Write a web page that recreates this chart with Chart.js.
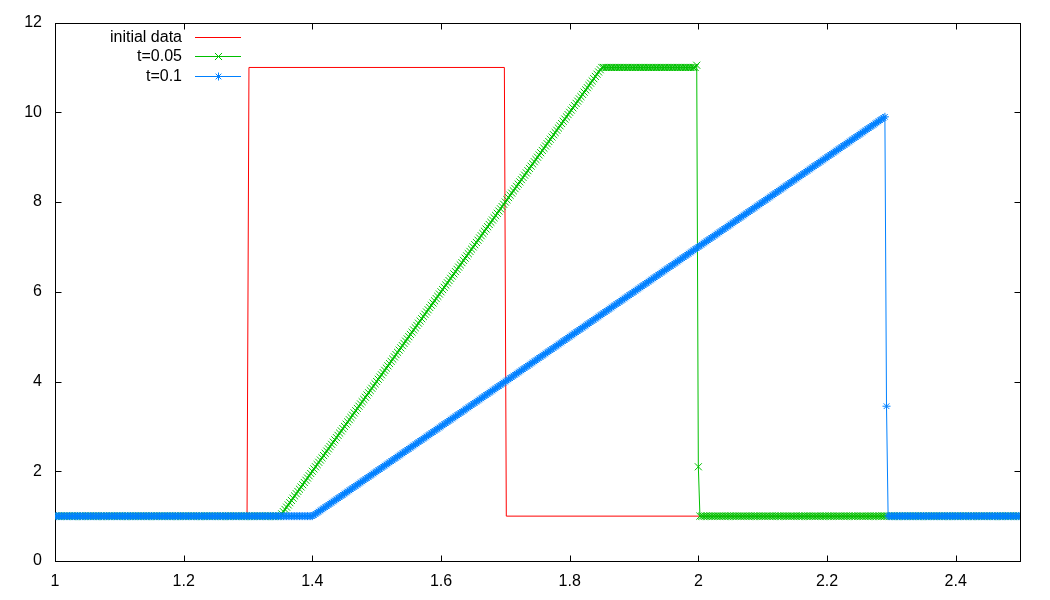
<!DOCTYPE html>
<html>
<head>
<meta charset="utf-8">
<script src="https://cdn.jsdelivr.net/npm/chart.js@4.4.1/dist/chart.umd.min.js"></script>
<style>
    html, body { margin: 0; padding: 0; background: #fff; }
</style>
</head>
<body>
<canvas id="plot" width="1050" height="600"></canvas>
<script>
// grid positions (x), two lines = 0.1
const xGrid = [
    1,1.0025,1.005,1.0075,1.01,1.0125,1.015,1.0175,1.02,1.0225,1.025,1.0275,1.03,1.0325,1.035,1.0375,1.04,1.0425,1.045,1.0475,
    1.05,1.0525,1.055,1.0575,1.06,1.0625,1.065,1.0675,1.07,1.0725,1.075,1.0775,1.08,1.0825,1.085,1.0875,1.09,1.0925,1.095,1.0975,
    1.1,1.1025,1.105,1.1075,1.11,1.1125,1.115,1.1175,1.12,1.1225,1.125,1.1275,1.13,1.1325,1.135,1.1375,1.14,1.1425,1.145,1.1475,
    1.15,1.1525,1.155,1.1575,1.16,1.1625,1.165,1.1675,1.17,1.1725,1.175,1.1775,1.18,1.1825,1.185,1.1875,1.19,1.1925,1.195,1.1975,
    1.2,1.2025,1.205,1.2075,1.21,1.2125,1.215,1.2175,1.22,1.2225,1.225,1.2275,1.23,1.2325,1.235,1.2375,1.24,1.2425,1.245,1.2475,
    1.25,1.2525,1.255,1.2575,1.26,1.2625,1.265,1.2675,1.27,1.2725,1.275,1.2775,1.28,1.2825,1.285,1.2875,1.29,1.2925,1.295,1.2975,
    1.3,1.3025,1.305,1.3075,1.31,1.3125,1.315,1.3175,1.32,1.3225,1.325,1.3275,1.33,1.3325,1.335,1.3375,1.34,1.3425,1.345,1.3475,
    1.35,1.3525,1.355,1.3575,1.36,1.3625,1.365,1.3675,1.37,1.3725,1.375,1.3775,1.38,1.3825,1.385,1.3875,1.39,1.3925,1.395,1.3975,
    1.4,1.4025,1.405,1.4075,1.41,1.4125,1.415,1.4175,1.42,1.4225,1.425,1.4275,1.43,1.4325,1.435,1.4375,1.44,1.4425,1.445,1.4475,
    1.45,1.4525,1.455,1.4575,1.46,1.4625,1.465,1.4675,1.47,1.4725,1.475,1.4775,1.48,1.4825,1.485,1.4875,1.49,1.4925,1.495,1.4975,
    1.5,1.5025,1.505,1.5075,1.51,1.5125,1.515,1.5175,1.52,1.5225,1.525,1.5275,1.53,1.5325,1.535,1.5375,1.54,1.5425,1.545,1.5475,
    1.55,1.5525,1.555,1.5575,1.56,1.5625,1.565,1.5675,1.57,1.5725,1.575,1.5775,1.58,1.5825,1.585,1.5875,1.59,1.5925,1.595,1.5975,
    1.6,1.6025,1.605,1.6075,1.61,1.6125,1.615,1.6175,1.62,1.6225,1.625,1.6275,1.63,1.6325,1.635,1.6375,1.64,1.6425,1.645,1.6475,
    1.65,1.6525,1.655,1.6575,1.66,1.6625,1.665,1.6675,1.67,1.6725,1.675,1.6775,1.68,1.6825,1.685,1.6875,1.69,1.6925,1.695,1.6975,
    1.7,1.7025,1.705,1.7075,1.71,1.7125,1.715,1.7175,1.72,1.7225,1.725,1.7275,1.73,1.7325,1.735,1.7375,1.74,1.7425,1.745,1.7475,
    1.75,1.7525,1.755,1.7575,1.76,1.7625,1.765,1.7675,1.77,1.7725,1.775,1.7775,1.78,1.7825,1.785,1.7875,1.79,1.7925,1.795,1.7975,
    1.8,1.8025,1.805,1.8075,1.81,1.8125,1.815,1.8175,1.82,1.8225,1.825,1.8275,1.83,1.8325,1.835,1.8375,1.84,1.8425,1.845,1.8475,
    1.85,1.8525,1.855,1.8575,1.86,1.8625,1.865,1.8675,1.87,1.8725,1.875,1.8775,1.88,1.8825,1.885,1.8875,1.89,1.8925,1.895,1.8975,
    1.9,1.9025,1.905,1.9075,1.91,1.9125,1.915,1.9175,1.92,1.9225,1.925,1.9275,1.93,1.9325,1.935,1.9375,1.94,1.9425,1.945,1.9475,
    1.95,1.9525,1.955,1.9575,1.96,1.9625,1.965,1.9675,1.97,1.9725,1.975,1.9775,1.98,1.9825,1.985,1.9875,1.99,1.9925,1.995,1.9975,
    2,2.0025,2.005,2.0075,2.01,2.0125,2.015,2.0175,2.02,2.0225,2.025,2.0275,2.03,2.0325,2.035,2.0375,2.04,2.0425,2.045,2.0475,
    2.05,2.0525,2.055,2.0575,2.06,2.0625,2.065,2.0675,2.07,2.0725,2.075,2.0775,2.08,2.0825,2.085,2.0875,2.09,2.0925,2.095,2.0975,
    2.1,2.1025,2.105,2.1075,2.11,2.1125,2.115,2.1175,2.12,2.1225,2.125,2.1275,2.13,2.1325,2.135,2.1375,2.14,2.1425,2.145,2.1475,
    2.15,2.1525,2.155,2.1575,2.16,2.1625,2.165,2.1675,2.17,2.1725,2.175,2.1775,2.18,2.1825,2.185,2.1875,2.19,2.1925,2.195,2.1975,
    2.2,2.2025,2.205,2.2075,2.21,2.2125,2.215,2.2175,2.22,2.2225,2.225,2.2275,2.23,2.2325,2.235,2.2375,2.24,2.2425,2.245,2.2475,
    2.25,2.2525,2.255,2.2575,2.26,2.2625,2.265,2.2675,2.27,2.2725,2.275,2.2775,2.28,2.2825,2.285,2.2875,2.29,2.2925,2.295,2.2975,
    2.3,2.3025,2.305,2.3075,2.31,2.3125,2.315,2.3175,2.32,2.3225,2.325,2.3275,2.33,2.3325,2.335,2.3375,2.34,2.3425,2.345,2.3475,
    2.35,2.3525,2.355,2.3575,2.36,2.3625,2.365,2.3675,2.37,2.3725,2.375,2.3775,2.38,2.3825,2.385,2.3875,2.39,2.3925,2.395,2.3975,
    2.4,2.4025,2.405,2.4075,2.41,2.4125,2.415,2.4175,2.42,2.4225,2.425,2.4275,2.43,2.4325,2.435,2.4375,2.44,2.4425,2.445,2.4475,
    2.45,2.4525,2.455,2.4575,2.46,2.4625,2.465,2.4675,2.47,2.4725,2.475,2.4775,2.48,2.4825,2.485,2.4875,2.49,2.4925,2.495,2.4975,
    2.5
];

// t=0.05
const t005 = [
    1,1,1,1,1,1,1,1,1,1, 1,1,1,1,1,1,1,1,1,1,
    1,1,1,1,1,1,1,1,1,1, 1,1,1,1,1,1,1,1,1,1,
    1,1,1,1,1,1,1,1,1,1, 1,1,1,1,1,1,1,1,1,1,
    1,1,1,1,1,1,1,1,1,1, 1,1,1,1,1,1,1,1,1,1,
    1,1,1,1,1,1,1,1,1,1, 1,1,1,1,1,1,1,1,1,1,
    1,1,1,1,1,1,1,1,1,1, 1,1,1,1,1,1,1,1,1,1,
    1,1,1,1,1,1,1,1,1,1, 1,1,1,1,1,1,1,1,1,1,
    1,1.05,1.1,1.15,1.2,1.25,1.3,1.35,1.4,1.45, 1.5,1.55,1.6,1.65,1.7,1.75,1.8,1.85,1.9,1.95,
    2,2.05,2.1,2.15,2.2,2.25,2.3,2.35,2.4,2.45, 2.5,2.55,2.6,2.65,2.7,2.75,2.8,2.85,2.9,2.95,
    3,3.05,3.1,3.15,3.2,3.25,3.3,3.35,3.4,3.45, 3.5,3.55,3.6,3.65,3.7,3.75,3.8,3.85,3.9,3.95,
    4,4.05,4.1,4.15,4.2,4.25,4.3,4.35,4.4,4.45, 4.5,4.55,4.6,4.65,4.7,4.75,4.8,4.85,4.9,4.95,
    5,5.05,5.1,5.15,5.2,5.25,5.3,5.35,5.4,5.45, 5.5,5.55,5.6,5.65,5.7,5.75,5.8,5.85,5.9,5.95,
    6,6.05,6.1,6.15,6.2,6.25,6.3,6.35,6.4,6.45, 6.5,6.55,6.6,6.65,6.7,6.75,6.8,6.85,6.9,6.95,
    7,7.05,7.1,7.15,7.2,7.25,7.3,7.35,7.4,7.45, 7.5,7.55,7.6,7.65,7.7,7.75,7.8,7.85,7.9,7.95,
    8,8.05,8.1,8.15,8.2,8.25,8.3,8.35,8.4,8.45, 8.5,8.55,8.6,8.65,8.7,8.75,8.8,8.85,8.9,8.95,
    9,9.05,9.1,9.15,9.2,9.25,9.3,9.35,9.4,9.45, 9.5,9.55,9.6,9.65,9.7,9.75,9.8,9.85,9.9,9.95,
    10,10.05,10.1,10.15,10.2,10.25,10.3,10.35,10.4,10.45, 10.5,10.55,10.6,10.65,10.7,10.75,10.8,10.85,10.9,10.95,
    11,11,11,11,11,11,11,11,11,11, 11,11,11,11,11,11,11,11,11,11,
    11,11,11,11,11,11,11,11,11,11, 11,11,11,11,11,11,11,11,11,11,
    11,11,11,11,11,11,11,11,11,11, 11,11,11,11,11,11,11,11,11,11.05,
    2.1,1,1,1,1,1,1,1,1,1, 1,1,1,1,1,1,1,1,1,1,
    1,1,1,1,1,1,1,1,1,1, 1,1,1,1,1,1,1,1,1,1,
    1,1,1,1,1,1,1,1,1,1, 1,1,1,1,1,1,1,1,1,1,
    1,1,1,1,1,1,1,1,1,1, 1,1,1,1,1,1,1,1,1,1,
    1,1,1,1,1,1,1,1,1,1, 1,1,1,1,1,1,1,1,1,1,
    1,1,1,1,1,1,1,1,1,1, 1,1,1,1,1,1,1,1,1,1,
    1,1,1,1,1,1,1,1,1,1, 1,1,1,1,1,1,1,1,1,1,
    1,1,1,1,1,1,1,1,1,1, 1,1,1,1,1,1,1,1,1,1,
    1,1,1,1,1,1,1,1,1,1, 1,1,1,1,1,1,1,1,1,1,
    1,1,1,1,1,1,1,1,1,1, 1,1,1,1,1,1,1,1,1,1,
    1
];

// t=0.1
const t01 = [
    1,1,1,1,1,1,1,1,1,1, 1,1,1,1,1,1,1,1,1,1,
    1,1,1,1,1,1,1,1,1,1, 1,1,1,1,1,1,1,1,1,1,
    1,1,1,1,1,1,1,1,1,1, 1,1,1,1,1,1,1,1,1,1,
    1,1,1,1,1,1,1,1,1,1, 1,1,1,1,1,1,1,1,1,1,
    1,1,1,1,1,1,1,1,1,1, 1,1,1,1,1,1,1,1,1,1,
    1,1,1,1,1,1,1,1,1,1, 1,1,1,1,1,1,1,1,1,1,
    1,1,1,1,1,1,1,1,1,1, 1,1,1,1,1,1,1,1,1,1,
    1,1,1,1,1,1,1,1,1,1, 1,1,1,1,1,1,1,1,1,1,
    1,1.025,1.05,1.075,1.1,1.125,1.15,1.175,1.2,1.225,1.25,1.275,1.3,1.325,1.35,1.375,1.4,1.425,1.45,1.475,
    1.5,1.525,1.55,1.575,1.6,1.625,1.65,1.675,1.7,1.725,1.75,1.775,1.8,1.825,1.85,1.875,1.9,1.925,1.95,1.975,
    2,2.025,2.05,2.075,2.1,2.125,2.15,2.175,2.2,2.225,2.25,2.275,2.3,2.325,2.35,2.375,2.4,2.425,2.45,2.475,
    2.5,2.525,2.55,2.575,2.6,2.625,2.65,2.675,2.7,2.725,2.75,2.775,2.8,2.825,2.85,2.875,2.9,2.925,2.95,2.975,
    3,3.025,3.05,3.075,3.1,3.125,3.15,3.175,3.2,3.225,3.25,3.275,3.3,3.325,3.35,3.375,3.4,3.425,3.45,3.475,
    3.5,3.525,3.55,3.575,3.6,3.625,3.65,3.675,3.7,3.725,3.75,3.775,3.8,3.825,3.85,3.875,3.9,3.925,3.95,3.975,
    4,4.025,4.05,4.075,4.1,4.125,4.15,4.175,4.2,4.225,4.25,4.275,4.3,4.325,4.35,4.375,4.4,4.425,4.45,4.475,
    4.5,4.525,4.55,4.575,4.6,4.625,4.65,4.675,4.7,4.725,4.75,4.775,4.8,4.825,4.85,4.875,4.9,4.925,4.95,4.975,
    5,5.025,5.05,5.075,5.1,5.125,5.15,5.175,5.2,5.225,5.25,5.275,5.3,5.325,5.35,5.375,5.4,5.425,5.45,5.475,
    5.5,5.525,5.55,5.575,5.6,5.625,5.65,5.675,5.7,5.725,5.75,5.775,5.8,5.825,5.85,5.875,5.9,5.925,5.95,5.975,
    6,6.025,6.05,6.075,6.1,6.125,6.15,6.175,6.2,6.225,6.25,6.275,6.3,6.325,6.35,6.375,6.4,6.425,6.45,6.475,
    6.5,6.525,6.55,6.575,6.6,6.625,6.65,6.675,6.7,6.725,6.75,6.775,6.8,6.825,6.85,6.875,6.9,6.925,6.95,6.975,
    7,7.025,7.05,7.075,7.1,7.125,7.15,7.175,7.2,7.225,7.25,7.275,7.3,7.325,7.35,7.375,7.4,7.425,7.45,7.475,
    7.5,7.525,7.55,7.575,7.6,7.625,7.65,7.675,7.7,7.725,7.75,7.775,7.8,7.825,7.85,7.875,7.9,7.925,7.95,7.975,
    8,8.025,8.05,8.075,8.1,8.125,8.15,8.175,8.2,8.225,8.25,8.275,8.3,8.325,8.35,8.375,8.4,8.425,8.45,8.475,
    8.5,8.525,8.55,8.575,8.6,8.625,8.65,8.675,8.7,8.725,8.75,8.775,8.8,8.825,8.85,8.875,8.9,8.925,8.95,8.975,
    9,9.025,9.05,9.075,9.1,9.125,9.15,9.175,9.2,9.225,9.25,9.275,9.3,9.325,9.35,9.375,9.4,9.425,9.45,9.475,
    9.5,9.525,9.55,9.575,9.6,9.625,9.65,9.675,9.7,9.725,9.75,9.775,9.8,9.825,9.85,9.875,9.9,3.45,1,1,
    1,1,1,1,1,1,1,1,1,1, 1,1,1,1,1,1,1,1,1,1,
    1,1,1,1,1,1,1,1,1,1, 1,1,1,1,1,1,1,1,1,1,
    1,1,1,1,1,1,1,1,1,1, 1,1,1,1,1,1,1,1,1,1,
    1,1,1,1,1,1,1,1,1,1, 1,1,1,1,1,1,1,1,1,1,
    1
];

// initial data (step)
const initX = [1, 1.2985, 1.3015, 1.6985, 1.7015, 2.5];
const initY = [1, 1, 11, 11, 1, 1];

const xTicks = [1, 1.2, 1.4, 1.6, 1.8, 2, 2.2, 2.4];
const yTicks = [0, 2, 4, 6, 8, 10, 12];

const FONT = '"Liberation Sans", Arial, sans-serif';

// gnuplot style frame with ticks pointing inwards (also mirrored)
const frame = {
    id: 'frame',
    beforeDatasetsDraw(chart) {
        const { ctx, chartArea: a, scales } = chart;
        const L = Math.round(a.left) + 0.5, R = Math.round(a.right) + 0.5;
        const T = Math.round(a.top) + 0.5, B = Math.round(a.bottom) + 0.5;
        const len = 6;
        ctx.save();
        ctx.strokeStyle = '#000';
        ctx.lineWidth = 1;
        ctx.beginPath();
        xTicks.forEach(v => {
            const px = Math.round(scales.x.getPixelForValue(v)) + 0.5;
            ctx.moveTo(px, B); ctx.lineTo(px, B - len);
            ctx.moveTo(px, T); ctx.lineTo(px, T + len);
        });
        yTicks.forEach(v => {
            const py = Math.round(scales.y.getPixelForValue(v)) + 0.5;
            ctx.moveTo(L, py); ctx.lineTo(L + len, py);
            ctx.moveTo(R, py); ctx.lineTo(R - len, py);
        });
        ctx.stroke();
        ctx.strokeRect(L, T, R - L, B - T);
        ctx.restore();
    }
};

// key in the top left corner: text, line sample, marker
const key = {
    id: 'key',
    afterDatasetsDraw(chart) {
        const { ctx, chartArea: a } = chart;
        ctx.save();
        ctx.font = '16px ' + FONT;
        ctx.textAlign = 'right';
        ctx.textBaseline = 'middle';
        chart.data.datasets.forEach((ds, i) => {
            const y = Math.round(a.top + 14 + i * 19.5) + 0.5;
            ctx.fillStyle = '#000';
            ctx.fillText(ds.label, a.left + 127, y);
            ctx.strokeStyle = ds.borderColor;
            ctx.lineWidth = 1;
            ctx.beginPath();
            ctx.moveTo(a.left + 140, y);
            ctx.lineTo(a.left + 186, y);
            ctx.stroke();
            if (ds.pointRadius > 0) {
                Chart.helpers.drawPoint(ctx, {
                    pointStyle: ds.pointStyle, radius: ds.pointRadius, borderWidth: 1, rotation: 0
                }, a.left + 163.5, y);
            }
        });
        ctx.restore();
    }
};

const toPoints = (xs, ys) => xs.map((x, i) => ({ x: x, y: ys[i] }));

new Chart(document.getElementById('plot'), {
    type: 'scatter',
    data: {
        datasets: [
            {
                label: 'initial data',
                data: toPoints(initX, initY),
                showLine: true,
                borderColor: '#ff0000',
                borderWidth: 1,
                pointRadius: 0,
                order: 3
            },
            {
                label: 't=0.05',
                data: toPoints(xGrid, t005),
                showLine: true,
                borderColor: '#00c000',
                backgroundColor: '#00c000',
                borderWidth: 1,
                pointStyle: 'crossRot',
                pointRadius: 5,
                pointBorderWidth: 1,
                order: 2
            },
            {
                label: 't=0.1',
                data: toPoints(xGrid, t01),
                showLine: true,
                borderColor: '#0080ff',
                backgroundColor: '#0080ff',
                borderWidth: 1,
                pointStyle: 'star',
                pointRadius: 4,
                pointBorderWidth: 1,
                order: 1
            }
        ]
    },
    options: {
        responsive: false,
        animation: false,
        devicePixelRatio: 1,
        layout: { padding: { top: 20, right: 30, left: 0, bottom: 0 } },
        scales: {
            x: {
                type: 'linear',
                min: 1,
                max: 2.5,
                grid: { display: false, drawTicks: false },
                border: { display: false },
                afterBuildTicks: s => { s.ticks = xTicks.map(v => ({ value: v })); },
                afterFit: s => { s.height = 39; },
                ticks: {
                    color: '#000',
                    padding: 11,
                    maxRotation: 0,
                    autoSkip: false,
                    font: { family: FONT, size: 16 },
                    callback: v => String(v)
                }
            },
            y: {
                type: 'linear',
                min: 0,
                max: 12,
                grid: { display: false, drawTicks: false },
                border: { display: false },
                afterBuildTicks: s => { s.ticks = yTicks.map(v => ({ value: v })); },
                afterFit: s => { s.width = 55; },
                ticks: {
                    color: '#000',
                    padding: 13,
                    font: { family: FONT, size: 16 },
                    callback: v => String(v)
                }
            }
        },
        plugins: {
            legend: { display: false },
            tooltip: { enabled: false }
        }
    },
    plugins: [frame, key]
});
</script>
</body>
</html>
